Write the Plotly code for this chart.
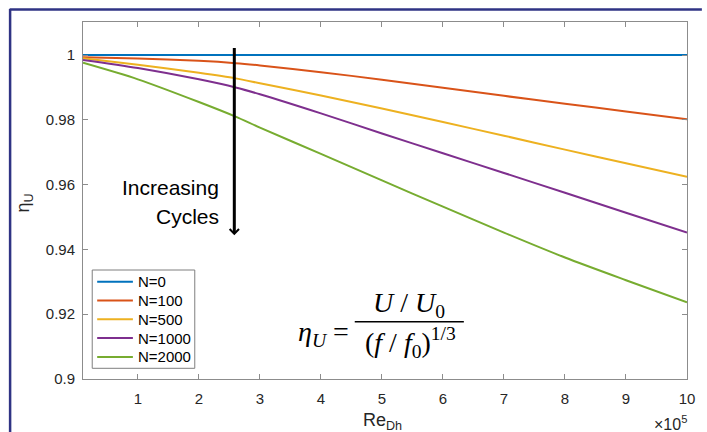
import plotly.graph_objects as go

# ---- data (Re_Dh in units of 1e5) ----
re_dh = [0.1, 1, 2, 2.6, 3, 4, 5, 6, 7, 8, 9, 10]
eta_n0 = [1.0, 1.0, 1.0, 1.0, 1.0, 1.0, 1.0, 1.0, 1.0, 1.0, 1.0, 1.0]
eta_n100 = [0.9993, 0.9989, 0.9982, 0.9975, 0.9968, 0.9947, 0.9924, 0.9899, 0.9874, 0.9850, 0.9826, 0.9802]
eta_n500 = [0.9990, 0.9970, 0.9945, 0.9928, 0.9913, 0.9875, 0.9835, 0.9793, 0.9751, 0.9708, 0.9666, 0.9624]
eta_n1000 = [0.9985, 0.9960, 0.9925, 0.9900, 0.9879, 0.9820, 0.9758, 0.9697, 0.9636, 0.9575, 0.9513, 0.9452]
eta_n2000 = [0.9976, 0.9925, 0.9855, 0.9810, 0.9776, 0.9695, 0.9613, 0.9532, 0.9452, 0.9375, 0.9305, 0.9237]
series_names = ["N=0", "N=100", "N=500", "N=1000", "N=2000"]
series_vals = [eta_n0, eta_n100, eta_n500, eta_n1000, eta_n2000]
colors = ["#0072BD", "#D95319", "#EDB120", "#7E2F8E", "#77AC30"]
x_ticks = [1, 2, 3, 4, 5, 6, 7, 8, 9, 10]
y_ticks = [0.9, 0.92, 0.94, 0.96, 0.98, 1.0]
y_tick_labels = ["0.9", "0.92", "0.94", "0.96", "0.98", "1"]
arrow_x = 2.58
arrow_y_start = 1.0026
arrow_y_end = 0.9444

W, H = 707, 432
L, R, T, B = 83, 15, 22, 53
PW, PH = W - L - R, H - T - B


def px(xpix):
    return (xpix - L) / PW


def py(ypix):
    return (H - B - ypix) / PH


fig = go.Figure()
for name, vals, col in zip(series_names, series_vals, colors):
    fig.add_trace(go.Scatter(x=re_dh, y=vals, mode="lines", name=name, showlegend=False,
                             line=dict(color=col, width=2, shape="spline", smoothing=0.8)))

tickfont = dict(family="Liberation Sans, Arial, sans-serif", size=15, color="#262626")
axcol = "#8c8c8c"
fig.update_xaxes(range=[0.1, 10], tickvals=x_ticks, ticktext=[str(v) for v in x_ticks],
                 ticks="inside", ticklen=5, tickcolor=axcol, showline=True, linecolor=axcol,
                 linewidth=1, mirror="ticks", showgrid=False, zeroline=False,
                 tickfont=tickfont, ticklabelstandoff=6)
fig.update_yaxes(range=[0.9, 1.0102], tickvals=y_ticks, ticktext=y_tick_labels,
                 ticks="inside", ticklen=5, tickcolor=axcol, showline=True, linecolor=axcol,
                 linewidth=1, mirror="ticks", showgrid=False, zeroline=False,
                 tickfont=tickfont, ticklabelstandoff=4)

serif = "Liberation Serif, Times New Roman, serif"
sans = "Liberation Sans, Arial, sans-serif"
eqfont = dict(family=serif, size=28, color="black")
ann = [
    # arrow
    dict(x=arrow_x, y=arrow_y_end, ax=arrow_x, ay=arrow_y_start, xref="x", yref="y",
         axref="x", ayref="y", text="", showarrow=True, arrowhead=4, arrowsize=0.6,
         arrowwidth=3, arrowcolor="black", standoff=0),
    dict(x=px(222), y=py(187), xref="paper", yref="paper", text="Increasing",
         showarrow=False, xanchor="right", yanchor="middle",
         font=dict(family=sans, size=21, color="black")),
    dict(x=px(222), y=py(216), xref="paper", yref="paper", text="Cycles",
         showarrow=False, xanchor="right", yanchor="middle",
         font=dict(family=sans, size=21, color="black")),
    # equation
    dict(x=px(325), y=py(333), xref="paper", yref="paper",
         text="<i>η</i><sub><i>U</i></sub> =", showarrow=False,
         xanchor="center", yanchor="middle", font=eqfont),
    dict(x=px(412), y=py(304), xref="paper", yref="paper",
         text="<i>U</i> / <i>U</i><sub>0</sub>", showarrow=False,
         xanchor="center", yanchor="middle", font=eqfont),
    dict(x=px(413), y=py(342), xref="paper", yref="paper",
         text="(<i>f</i> / <i>f</i><sub>0</sub>)<sup>1/3</sup>", showarrow=False,
         xanchor="center", yanchor="middle", font=eqfont),
    # axis titles
    dict(x=px(385), y=py(421), xref="paper", yref="paper", text="Re<sub>Dh</sub>",
         showarrow=False, xanchor="center", yanchor="middle",
         font=dict(family=sans, size=18, color="#262626")),
    dict(x=px(24), y=py(203), xref="paper", yref="paper", text="η<sub>U</sub>",
         showarrow=False, xanchor="center", yanchor="middle", textangle=-90,
         font=dict(family=sans, size=18, color="#262626")),
    dict(x=px(694), y=py(423), xref="paper", yref="paper", text="×10<sup>5</sup>",
         showarrow=False, xanchor="right", yanchor="middle",
         font=dict(family=sans, size=16, color="#262626")),
]

shapes = [
    # fraction bar
    dict(type="line", xref="paper", yref="paper", x0=px(357), x1=px(467),
         y0=py(321.7), y1=py(321.7), line=dict(color="black", width=1.5)),
    # frame border (top and left)
    dict(type="line", xref="paper", yref="paper", x0=px(9), x1=px(707),
         y0=py(9.5), y1=py(9.5), line=dict(color="#2f3384", width=2.5)),
    dict(type="line", xref="paper", yref="paper", x0=px(9.5), x1=px(9.5),
         y0=py(9), y1=py(432), line=dict(color="#2f3384", width=2.5)),
    # legend box
    dict(type="rect", xref="paper", yref="paper", x0=px(92.3), x1=px(195.7),
         y0=py(368.3), y1=py(270), line=dict(color="#7f7f7f", width=1),
         fillcolor="white", layer="above"),
]

# legend entries (custom, MATLAB-like spacing)
row_y = [281.7, 300.5, 319.3, 338.1, 356.9]
for name, col, ry in zip(series_names, colors, row_y):
    shapes.append(dict(type="line", xref="paper", yref="paper", x0=px(97.3), x1=px(133.3),
                       y0=py(ry), y1=py(ry), line=dict(color=col, width=2), layer="above"))
    ann.append(dict(x=px(136.5), y=py(ry), xref="paper", yref="paper", text=name,
                    showarrow=False, xanchor="left", yanchor="middle",
                    font=dict(family=sans, size=15, color="black")))

fig.update_layout(
    width=W, height=H, margin=dict(l=L, r=R, t=T, b=B),
    paper_bgcolor="white", plot_bgcolor="white",
    annotations=ann, shapes=shapes, showlegend=False,
)

fig.write_html("out.html", config={"displayModeBar": False},
               post_script="document.body.style.margin='0px';document.body.style.overflow='hidden';")
